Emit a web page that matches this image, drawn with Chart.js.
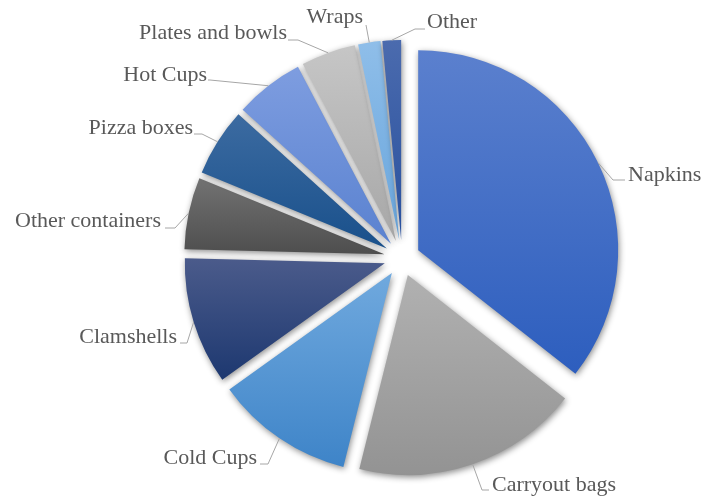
<!DOCTYPE html>
<html>
<head>
<meta charset="utf-8">
<script src="https://cdn.jsdelivr.net/npm/chart.js@4.4.1/dist/chart.umd.min.js"></script>
<style>
    html, body { margin: 0; padding: 0; background: #fff; }
    #wrap { width: 703px; height: 498px; }
</style>
</head>
<body>
<div id="wrap"><canvas id="myChart"></canvas></div>
<script>
// Chart data
const categories = ['Napkins', 'Carryout bags', 'Cold Cups', 'Clamshells', 'Other containers',
    'Pizza boxes', 'Hot Cups', 'Plates and bowls', 'Wraps', 'Other'];
const shares = [35.6, 18.3, 11.2, 10.3, 5.8, 5.5, 5.6, 4.4, 1.8, 1.5];

// gradient colours, top -> bottom of each slice
const topColors = ['#5b80ce', '#b1b1b1', '#70a9de', '#4b5b8b', '#727272',
    '#3c6ba1', '#7e9de0', '#c6c6c6', '#8fbee9', '#4b6bae'];
const bottomColors = ['#2d5ebe', '#939393', '#3e84c8', '#1d3870', '#4e4e4e',
    '#19508b', '#5a82d0', '#a7a7a7', '#68a5dc', '#28509e'];

const EXPLODE = 18;
const RADIUS = 200;

// where each label sits (text x/y, side, end of leader, length of the little hook)
const labelLayout = [
    { tx: 628, ty: 175, side: 1, lx: 625, ly: 180, hook: 12 },
    { tx: 492, ty: 485, side: 1, lx: 489, ly: 490, hook: 7 },
    { tx: 257, ty: 458, side: -1, lx: 260, ly: 464, hook: 8 },
    { tx: 177, ty: 337, side: -1, lx: 180, ly: 343, hook: 7 },
    { tx: 161, ty: 221, side: -1, lx: 165, ly: 228, hook: 10 },
    { tx: 193, ty: 128, side: -1, lx: 194, ly: 134, hook: 8 },
    { tx: 207, ty: 75, side: -1, lx: 208, ly: 80, hook: 2 },
    { tx: 287, ty: 33, side: -1, lx: 288, ly: 40, hook: 10 },
    { tx: 363, ty: 17, side: -1, lx: 366, ly: 25, hook: 0 },
    { tx: 427, ty: 22, side: 1, lx: 425, ly: 29, hook: 10 }
];

const total = shares.reduce((a, b) => a + b, 0);

function sliceGradient(context) {
    const chart = context.chart;
    const area = chart.chartArea;
    const i = context.dataIndex;
    if (!area || i === undefined) return topColors[i] || '#888';
    let before = 0;
    for (let k = 0; k < i; k++) before += shares[k];
    const a0 = -Math.PI / 2 + before / total * Math.PI * 2;
    const a1 = a0 + shares[i] / total * Math.PI * 2;
    const mid = (a0 + a1) / 2;
    const cy = (area.top + area.bottom) / 2 + Math.sin(mid) * EXPLODE;
    let yMin = cy, yMax = cy;
    for (let k = 0; k <= 60; k++) {
        const y = cy + RADIUS * Math.sin(a0 + (a1 - a0) * k / 60);
        yMin = Math.min(yMin, y);
        yMax = Math.max(yMax, y);
    }
    const g = chart.ctx.createLinearGradient(0, yMin, 0, yMax);
    g.addColorStop(0, topColors[i]);
    g.addColorStop(1, bottomColors[i]);
    return g;
}

// move every slice out from the centre by the same distance
const explodePlugin = {
    id: 'explode',
    afterDatasetsUpdate(chart) {
        chart.getDatasetMeta(0).data.forEach((arc) => {
            const mid = (arc.startAngle + arc.endAngle) / 2;
            arc.x += Math.cos(mid) * EXPLODE;
            arc.y += Math.sin(mid) * EXPLODE;
        });
    }
};

const shadowPlugin = {
    id: 'softShadow',
    beforeDatasetsDraw(chart) {
        const ctx = chart.ctx;
        ctx.save();
        ctx.shadowColor = 'rgba(0, 0, 0, 0.45)';
        ctx.shadowBlur = 6;
        ctx.shadowOffsetX = 1;
        ctx.shadowOffsetY = 2;
    },
    afterDatasetsDraw(chart) {
        chart.ctx.restore();
    }
};

const labelPlugin = {
    id: 'outerLabels',
    afterDraw(chart) {
        const ctx = chart.ctx;
        const arcs = chart.getDatasetMeta(0).data;
        ctx.save();
        ctx.font = '22px "Liberation Serif", serif';
        ctx.textBaseline = 'middle';
        arcs.forEach((arc, i) => {
            const lay = labelLayout[i];
            const mid = (arc.startAngle + arc.endAngle) / 2;
            const ex = arc.x + Math.cos(mid) * arc.outerRadius;
            const ey = arc.y + Math.sin(mid) * arc.outerRadius;
            ctx.strokeStyle = '#a6a6a6';
            ctx.lineWidth = 1;
            ctx.beginPath();
            ctx.moveTo(ex, ey);
            ctx.lineTo(lay.lx + lay.side * -lay.hook, lay.ly);
            ctx.lineTo(lay.lx, lay.ly);
            ctx.stroke();
            ctx.fillStyle = '#595959';
            ctx.textAlign = lay.side > 0 ? 'left' : 'right';
            ctx.fillText(categories[i], lay.tx, lay.ty);
        });
        ctx.restore();
    }
};

const ctx = document.getElementById('myChart').getContext('2d');
const myChart = new Chart(ctx, {
    type: 'pie',
    data: {
        labels: categories,
        datasets: [{
            data: shares,
            backgroundColor: sliceGradient,
            borderWidth: 0
        }]
    },
    options: {
        responsive: true,
        maintainAspectRatio: false,
        animation: false,
        events: [],
        radius: RADIUS,
        layout: { padding: { left: 101, right: 0, top: 20, bottom: 2 } },
        plugins: {
            legend: { display: false },
            tooltip: { enabled: false }
        }
    },
    plugins: [explodePlugin, shadowPlugin, labelPlugin]
});
</script>
</body>
</html>
